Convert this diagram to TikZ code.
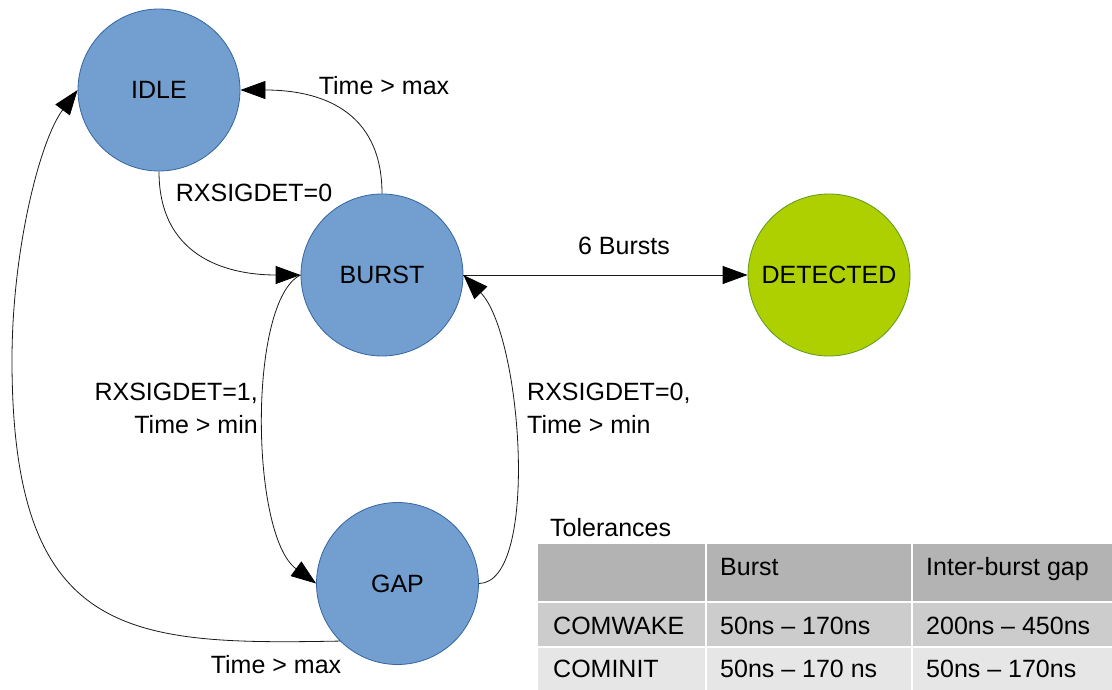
\documentclass[tikz,border=0pt]{standalone}
\usepackage{fontspec}
\setmainfont{Liberation Sans}
\usetikzlibrary{arrows.meta}
\definecolor{stateblue}{HTML}{729FCF}
\definecolor{stateborder}{HTML}{3465A4}
\definecolor{detfill}{HTML}{AECF00}
\definecolor{detborder}{HTML}{5C9A1B}
\definecolor{hdrgray}{HTML}{B3B3B3}
\definecolor{rowa}{HTML}{CCCCCC}
\definecolor{rowb}{HTML}{E6E6E6}
\begin{document}
\begin{tikzpicture}[x=1pt,y=-1pt,
  font=\fontsize{25}{33}\selectfont,
  state/.style={circle,minimum size=162pt,inner sep=0pt,fill=stateblue,draw=stateborder,line width=0.8pt},
  detstate/.style={circle,minimum size=162pt,inner sep=0pt,fill=detfill,draw=detborder,line width=0.8pt},
  conn/.style={draw=black!90,line width=0.8pt,-{Triangle[length=25pt,width=18pt,fill=black,color=black]}},
  lbl/.style={inner sep=0pt},
  cell/.style={draw=white,line width=1.2pt},
  celltext/.style={inner sep=0pt,anchor=base west}]
\useasboundingbox (0,0) rectangle (1112,690);

% states
\node[state] (idle) at (159,90) {IDLE};
\node[state] (burst) at (382,275) {BURST};
\node[state] (gap) at (397.5,583.5) {GAP};
\node[detstate] (det) at (829,275) {DETECTED};

% transitions
\draw[conn] (idle.south) .. controls (159,262) and (235,275) .. (burst.west);
\draw[conn] (burst.north) .. controls (382,110) and (320,90) .. (idle.east);
\draw[conn] (burst.east) -- (det.west);
\draw[conn] (burst.west) .. controls (248,300) and (250,535) .. (gap.west);
\draw[conn] (gap.east) .. controls (540,583) and (522,335) .. (burst.east);
\coordinate (via) at (12,360);
\draw[conn] (gap.225) .. controls (130,645) and (12,640) .. (via)
  .. controls (12,250) and (40,140) .. (idle.west);

% labels
\node[lbl] (l1) at (384,86) {Time > max};
\node[lbl] (l2) at (254,193) {RXSIGDET=0};
\node[lbl] (l3) at (624,246) {6 Bursts};
\node[lbl,align=right,anchor=east] (l4) at (258,408) {RXSIGDET=1,\\Time > min};
\node[lbl,align=left,anchor=west] (l5) at (527,408) {RXSIGDET=0,\\Time > min};
\node[lbl] (l6) at (276,665) {Time > max};

% table
\node[celltext] (ttl) at (550,536) {Tolerances};
\fill[hdrgray] (538,544) rectangle (1112,602);
\fill[rowa] (538,602) rectangle (1112,647);
\fill[rowb] (538,647) rectangle (1112,690);
\draw[cell] (538,602) -- (1112,602);
\draw[cell] (538,647) -- (1112,647);
\draw[cell] (706,544) -- (706,690);
\draw[cell] (912,544) -- (912,690);
\node[celltext] (h2) at (720,575) {Burst};
\node[celltext] (h3) at (926,575) {Inter-burst gap};
\node[celltext] (r1a) at (553,634) {COMWAKE};
\node[celltext] (r1b) at (720,634) {50ns – 170ns};
\node[celltext] (r1c) at (926,634) {200ns – 450ns};
\node[celltext] (r2a) at (553,677) {COMINIT};
\node[celltext] (r2b) at (720,677) {50ns – 170 ns};
\node[celltext] (r2c) at (926,677) {50ns – 170ns};
\end{tikzpicture}
\end{document}
